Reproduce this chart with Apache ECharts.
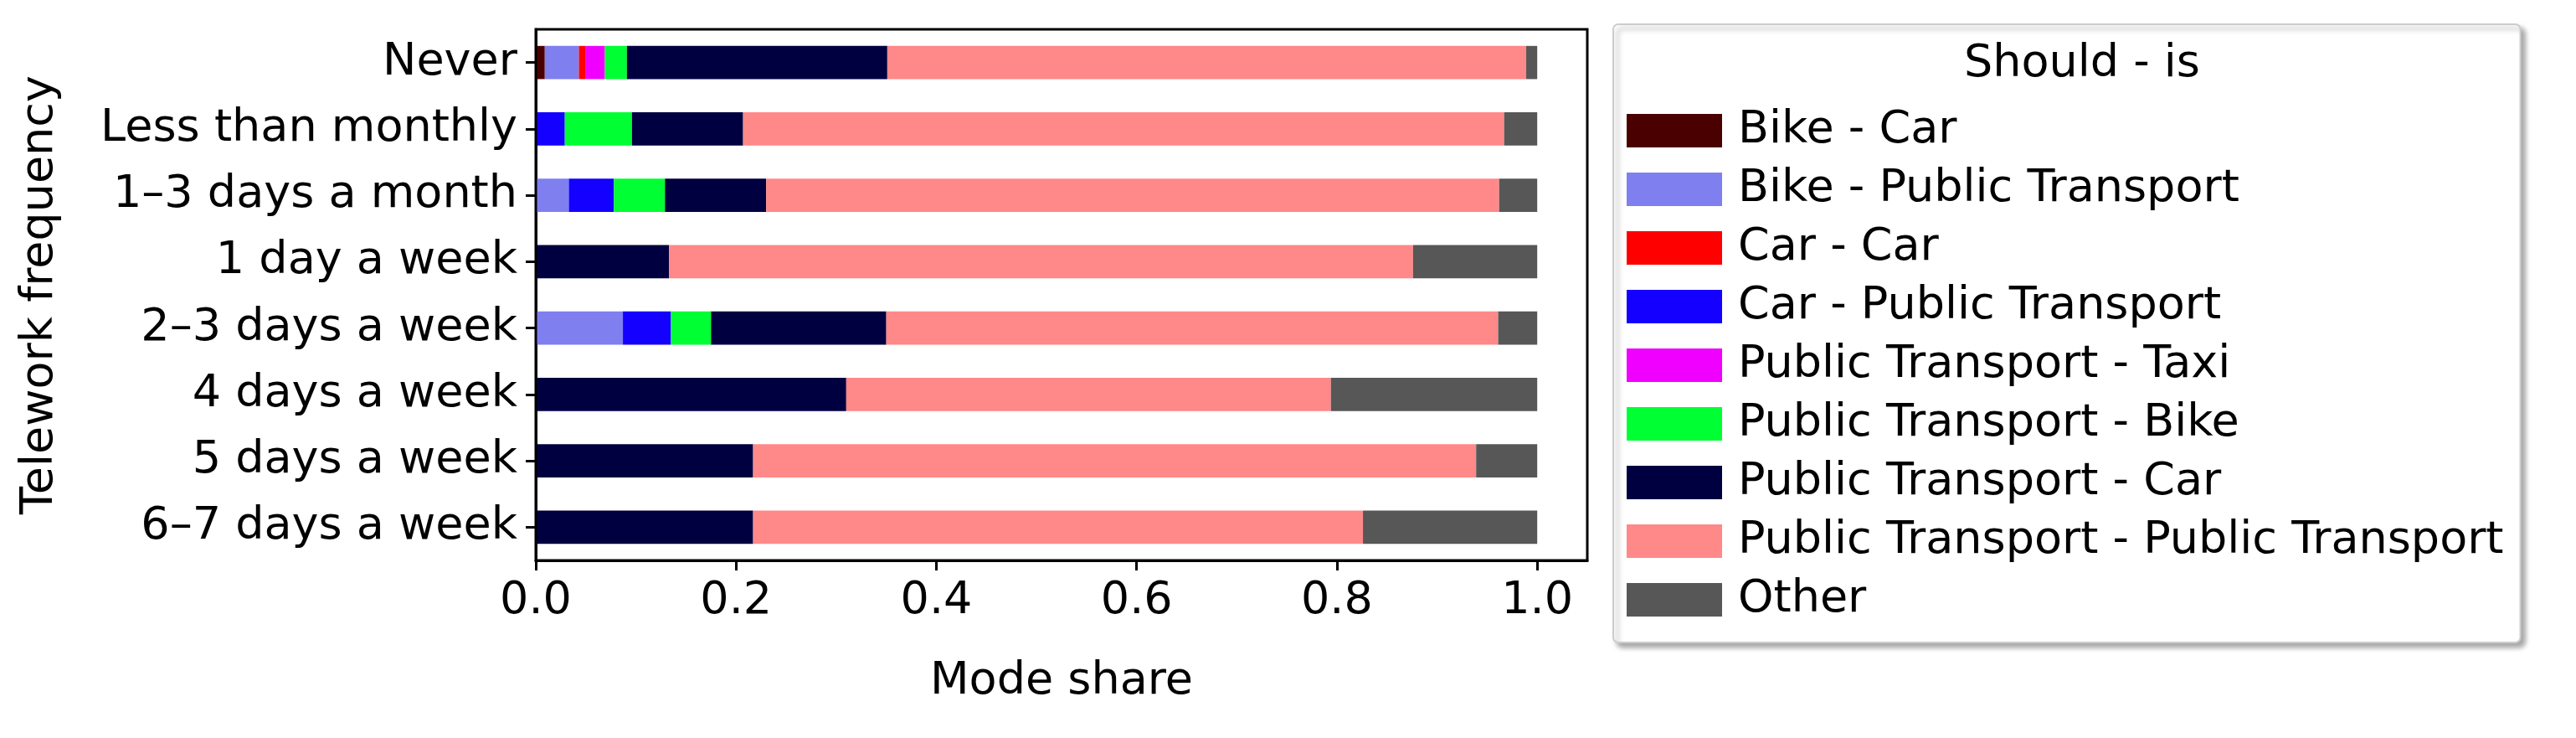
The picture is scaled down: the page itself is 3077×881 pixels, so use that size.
<!DOCTYPE html>
<html lang="en">
<head>
<meta charset="UTF-8">
<title>Telework mode share</title>
<script src="https://cdn.jsdelivr.net/npm/echarts@6/dist/echarts.min.js"></script>
<style>html,body{margin:0;background:#fff}</style>
</head>
<body>
<div id="main" style="width:3077px;height:881px;"></div>
<script>
var categories = ['Never', 'Less than monthly', '1\u20133 days a month', '1 day a week',
    '2\u20133 days a week', '4 days a week', '5 days a week', '6\u20137 days a week'];
var seriesNames = ['Bike - Car', 'Bike - Public Transport', 'Car - Car', 'Car - Public Transport',
    'Public Transport - Taxi', 'Public Transport - Bike', 'Public Transport - Car',
    'Public Transport - Public Transport', 'Other'];
var colors = ['#4a0000', '#7f7ff0', '#ff0000', '#1400ff', '#f000ff', '#00ff33', '#000040', '#ff8888', '#575757'];
var bikeCar   = [0.009, 0, 0, 0, 0, 0, 0, 0];
var bikePT    = [0.034, 0, 0.033, 0, 0.087, 0, 0, 0];
var carCar    = [0.007, 0, 0, 0, 0, 0, 0, 0];
var carPT     = [0, 0.029, 0.045, 0, 0.048, 0, 0, 0];
var ptTaxi    = [0.019, 0, 0, 0, 0, 0, 0, 0];
var ptBike    = [0.022, 0.067, 0.051, 0, 0.040, 0, 0, 0];
var ptCar     = [0.260, 0.111, 0.101, 0.133, 0.175, 0.310, 0.217, 0.217];
var ptPT      = [0.638, 0.760, 0.732, 0.743, 0.611, 0.484, 0.722, 0.609];
var other     = [0.011, 0.033, 0.038, 0.124, 0.039, 0.206, 0.061, 0.174];
var allValues = [bikeCar, bikePT, carCar, carPT, ptTaxi, ptBike, ptCar, ptPT, other];

var font = 'DejaVu Sans';
var fs = 54;
var myChart = echarts.init(document.getElementById('main'));
var series = [];
for (var i = 0; i < seriesNames.length; i++) {
    series.push({
        name: seriesNames[i], type: 'bar', stack: 'all', barWidth: '50%',
        data: allValues[i], itemStyle: { color: colors[i] }
    });
}
var option = {
    animation: false,
    textStyle: { fontFamily: font },
    grid: { left: 640, right: 3077 - 1896, top: 35, bottom: 881 - 669 },
    title: {
        text: 'Should - is', left: 2482, top: 45, textAlign: 'center',
        textStyle: { fontFamily: font, fontSize: fs, fontWeight: 'normal', color: '#000' }
    },
    legend: {
        orient: 'vertical', left: 1927, top: 29,
        padding: [100, 20, 24, 16], itemWidth: 114, itemHeight: 40, itemGap: 16,
        backgroundColor: '#fff', borderColor: '#ccc', borderWidth: 2, borderRadius: 6,
        shadowColor: 'rgba(0,0,0,0.35)', shadowBlur: 6, shadowOffsetX: 5, shadowOffsetY: 5,
        textStyle: { fontFamily: font, fontSize: fs, color: '#000', padding: [0, 0, 0, 14] },
        itemStyle: { borderWidth: 0 },
        icon: 'rect',
        data: seriesNames
    },
    xAxis: {
        type: 'value', min: 0, max: 1.05, interval: 0.2,
        name: 'Mode share', nameLocation: 'middle', nameGap: 118,
        nameTextStyle: { fontFamily: font, fontSize: fs, color: '#000' },
        axisLine: { show: true, lineStyle: { color: '#000', width: 3 } },
        axisTick: { show: true, length: 12, lineStyle: { color: '#000', width: 3 } },
        axisLabel: { fontSize: fs, color: '#000', margin: 22, showMaxLabel: false,
            formatter: function (v) { return v.toFixed(1); } },
        splitLine: { show: false }
    },
    yAxis: {
        type: 'category', data: categories, inverse: true,
        name: 'Telework frequency', nameLocation: 'middle', nameGap: 565, nameRotate: 90,
        nameTextStyle: { fontFamily: font, fontSize: fs, color: '#000' },
        axisLine: { show: true, lineStyle: { color: '#000', width: 3 } },
        axisTick: { show: true, alignWithLabel: true, length: 12, lineStyle: { color: '#000', width: 3 } },
        axisLabel: { fontSize: fs, color: '#000', margin: 22 }
    },
    graphic: [{
        type: 'rect', shape: { x: 640, y: 35, width: 1256, height: 634 },
        style: { fill: 'none', stroke: '#000', lineWidth: 3 }, z: 10, silent: true
    }],
    series: series
};
myChart.setOption(option);
</script>
</body>
</html>
